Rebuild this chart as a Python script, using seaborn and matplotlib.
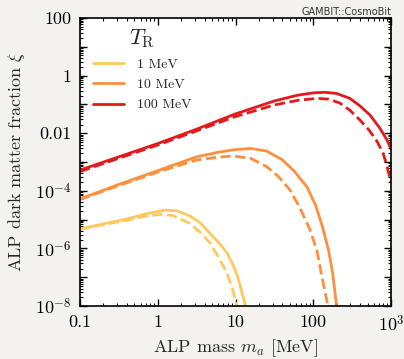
import numpy as np
import pandas as pd
import matplotlib
matplotlib.use("Agg")
import matplotlib.pyplot as plt
import matplotlib.ticker as mticker
from matplotlib.lines import Line2D
import seaborn as sns

# ---- data (log10 values) ----
labels = ["1 MeV", "10 MeV", "100 MeV"]
colors = ["#fec95c", "#fd8f3e", "#e31a1c"]

red_solid_lm = [-1, -0.5, 0, 0.5, 1.0, 1.5, 1.8, 2.0, 2.15, 2.3, 2.47, 2.6, 2.73, 2.85, 2.95, 3.0]
red_solid_lx = [-3.28, -2.82, -2.36, -1.86, -1.33, -0.88, -0.68, -0.6, -0.58, -0.62, -0.79, -1.05, -1.37, -1.8, -2.24, -2.55]
red_dash_lm = [-1, -0.5, 0, 0.5, 1.0, 1.5, 1.8, 2.05, 2.2, 2.34, 2.47, 2.6, 2.72, 2.82, 2.9, 2.95, 3.0]
red_dash_lx = [-3.33, -2.87, -2.41, -1.92, -1.42, -1.02, -0.86, -0.79, -0.82, -0.95, -1.2, -1.54, -1.9, -2.28, -2.7, -3.17, -3.7]

orange_solid_lm = [-1, -0.5, 0, 0.5, 0.8, 1.0, 1.2, 1.4, 1.6, 1.75, 1.92, 2.03, 2.12, 2.2, 2.25, 2.3, 2.32]
orange_solid_lx = [-4.28, -3.78, -3.3, -2.82, -2.65, -2.57, -2.53, -2.62, -2.92, -3.3, -3.87, -4.5, -5.26, -6.1, -6.86, -8.0, -8.5]
orange_dash_lm = [-1, -0.5, 0, 0.5, 0.75, 0.97, 1.2, 1.4, 1.55, 1.7, 1.83, 1.96, 2.05, 2.12, 2.19, 2.21]
orange_dash_lx = [-4.3, -3.82, -3.35, -2.93, -2.84, -2.79, -2.88, -3.16, -3.5, -3.97, -4.6, -5.36, -6.1, -7.1, -8.0, -8.5]

yellow_solid_lm = [-1, -0.7, -0.4, -0.15, 0.09, 0.25, 0.41, 0.55, 0.63, 0.71, 0.8, 0.89, 0.97, 1.03, 1.08, 1.13, 1.15]
yellow_solid_lx = [-5.33, -5.15, -4.98, -4.8, -4.67, -4.7, -4.87, -5.12, -5.36, -5.59, -5.85, -6.16, -6.58, -7.0, -7.5, -8.0, -8.3]
yellow_dash_lm = [-1, -0.7, -0.4, -0.2, 0.03, 0.2, 0.41, 0.55, 0.67, 0.78, 0.89, 0.96, 1.02, 1.04]
yellow_dash_lx = [-5.34, -5.17, -5.03, -4.9, -4.82, -4.86, -5.13, -5.45, -5.8, -6.3, -6.85, -7.4, -8.0, -8.3]

series = [
    (yellow_solid_lm, yellow_solid_lx, 0, "-"),
    (yellow_dash_lm, yellow_dash_lx, 0, "--"),
    (orange_solid_lm, orange_solid_lx, 1, "-"),
    (orange_dash_lm, orange_dash_lx, 1, "--"),
    (red_solid_lm, red_solid_lx, 2, "-"),
    (red_dash_lm, red_dash_lx, 2, "--"),
]

xticks = [0.1, 1, 10, 100, 1000]
xticklabels = ["0.1", "1", "10", "100", r"$10^3$"]
yticks = [1e-8, 1e-6, 1e-4, 1e-2, 1, 100]
yticklabels = [r"$10^{-8}$", r"$10^{-6}$", r"$10^{-4}$", "0.01", "1", "100"]

# ---- style ----
sns.set_style("ticks")
plt.rcParams["font.family"] = ["cmr10", "DejaVu Serif"]
plt.rcParams["mathtext.fontset"] = "cm"
plt.rcParams["axes.formatter.use_mathtext"] = True
plt.rcParams["axes.unicode_minus"] = False

bg = "#f3f2ee"
fig = plt.figure(figsize=(4.04, 3.59), dpi=100, facecolor=bg)
ax = fig.add_axes([80 / 404, 1 - 306 / 359, (391 - 80) / 404, (306 - 18) / 359])
ax.set_facecolor("white")

for lm, lx, ci, ls in series:
    df = pd.DataFrame({"m": 10 ** np.array(lm), "xi": 10 ** np.array(lx)})
    sns.lineplot(data=df, x="m", y="xi", ax=ax, color=colors[ci], linestyle=ls,
                 linewidth=2.0, sort=False, estimator=None)

ax.set_xscale("log")
ax.set_yscale("log")
ax.set_xlim(0.1, 1000)
ax.set_ylim(1e-8, 100)

ax.xaxis.set_major_locator(mticker.FixedLocator(xticks))
ax.xaxis.set_major_formatter(mticker.FixedFormatter(xticklabels))
ax.xaxis.set_minor_locator(mticker.LogLocator(base=10, subs=np.arange(2, 10), numticks=50))
ax.xaxis.set_minor_formatter(mticker.NullFormatter())

ymaj = [10.0 ** k for k in range(-8, 3)]
ax.yaxis.set_major_locator(mticker.FixedLocator(ymaj))
ymaj_labels = []
for v in ymaj:
    if v in yticks:
        ymaj_labels.append(yticklabels[yticks.index(v)])
    else:
        ymaj_labels.append("")
ax.yaxis.set_major_formatter(mticker.FixedFormatter(ymaj_labels))
ax.yaxis.set_minor_locator(mticker.LogLocator(base=10, subs=np.arange(2, 10), numticks=50))
ax.yaxis.set_minor_formatter(mticker.NullFormatter())

ax.tick_params(which="both", direction="in", top=True, right=True, colors="black", labelsize=13)
ax.tick_params(which="major", length=5, width=1.0, pad=6)
ax.tick_params(which="minor", length=2.5, width=0.8)
for s in ax.spines.values():
    s.set_linewidth(1.2)
    s.set_color("black")

ax.set_xlabel(r"ALP mass $m_a$ [MeV]", fontsize=13, labelpad=2)
ax.set_ylabel(r"ALP dark matter fraction $\xi$", fontsize=13, labelpad=6)

handles = [Line2D([0], [0], color=c, lw=2.0) for c in colors]
leg = ax.legend(handles, labels, title=r"$T_{\rm R}$", loc="upper left",
                frameon=False, fontsize=10, title_fontsize=16,
                bbox_to_anchor=(0.0, 1.01), handlelength=2.3, handletextpad=0.9,
                labelspacing=0.55, borderaxespad=0.5)

fig.text(391 / 404, 1 - 12 / 359, "GAMBIT::CosmoBit", ha="right", va="center",
         fontsize=7, family="DejaVu Sans", color="#333333")

fig.savefig("out.png", dpi=100, facecolor=bg)
